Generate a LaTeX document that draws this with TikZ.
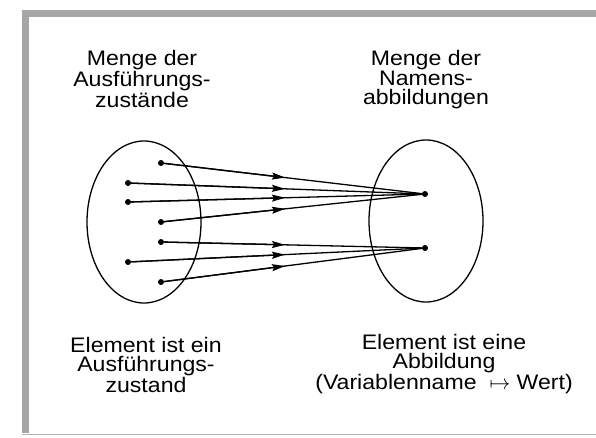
\documentclass[tikz,border=0pt]{standalone}
\usepackage{fontspec}
\setmainfont{Liberation Sans}[FakeStretch=1.1]
\usetikzlibrary{arrows.meta,shapes.geometric,calc}
\begin{document}
\begin{tikzpicture}[x=1pt,y=-1pt,
  band/.style={fill=black!35},
  bandline/.style={draw=black!30,line width=1.4pt},
  setshape/.style={draw,ellipse,line width=1.3pt,inner sep=0pt,minimum width=114pt,minimum height=162pt},
  dot/.style={circle,fill,inner sep=0pt,minimum size=6pt},
  ln/.style={line width=1.3pt},
  arr/.style={line width=1.3pt,-{Stealth[length=13pt,width=7pt,inset=2pt]}},
  lbl/.style={align=center,font=\fontsize{21}{19.5}\selectfont}]
\useasboundingbox (0,0) rectangle (596,438);
% frame
\fill[band] (22,10) rectangle (596,17);
\fill[band] (22,10) rectangle (29,433);
\draw[bandline] (22,434.5) -- (596,434.5);
% sets
\node[setshape] (L) at (144,222) {};
\node[setshape] (R) at (426,221) {};
% elements
\node[dot] (p1) at (161,163) {};
\node[dot] (p2) at (128,183) {};
\node[dot] (p3) at (128,202) {};
\node[dot] (p4) at (161,222) {};
\node[dot] (p5) at (161,242) {};
\node[dot] (p6) at (128,262) {};
\node[dot] (p7) at (161,282) {};
\node[dot] (q1) at (425,194) {};
\node[dot] (q2) at (425,248) {};
% mappings
\foreach \a/\b/\f in {p1/q1/0.4697,p2/q1/0.5286,p3/q1/0.5286,p4/q1/0.4697,p5/q2/0.4697,p6/q2/0.5286,p7/q2/0.4697}{
  \draw[ln] (\a) -- (\b);
  \draw[arr] (\a) -- ($(\a)!\f!(\b)$);
}
% labels
\node[lbl] (tl) at (142,79) {Menge der\\Ausführungs-\\zustände};
\node[lbl] (tr) at (426,80) {Menge der\\Namens-\\abbildungen};
\node[lbl] (bl) at (146,365) {Element ist ein\\Ausführungs-\\zustand};
\node[lbl] (br) at (444,364) {Element ist eine\\Abbildung\\(Variablenname \ $\mapsto$ Wert)};
\end{tikzpicture}
\end{document}
